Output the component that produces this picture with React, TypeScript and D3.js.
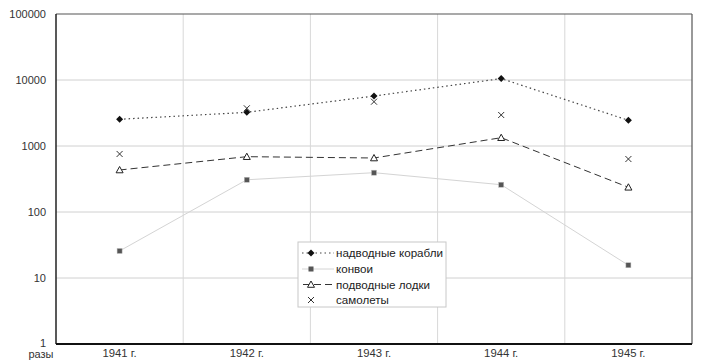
import React from "react";
import * as d3 from "d3";

const years = ["1941 г.", "1942 г.", "1943 г.", "1944 г.", "1945 г."];
const surfaceShips = [2540, 3240, 5720, 10500, 2450];
const convoys = [25.7, 308, 394, 259, 15.6];
const submarines = [433, 689, 658, 1336, 237];
const aircraft = [757, 3725, 4690, 2950, 635];
const yTicks = [1, 10, 100, 1000, 10000, 100000];
const seriesNames = ["надводные корабли", "конвои", "подводные лодки", "самолеты"];
const yUnit = "разы";

const W = 701, H = 362;
const L = 56, R = 692, T = 14, B = 344;
const FONT = "'Liberation Sans', Arial, sans-serif";

export default function App() {
  const x = d3.scaleBand<string>().domain(years).range([L, R]);
  const cx = (i: number) => (x(years[i]) as number) + x.bandwidth() / 2;
  const y = d3.scaleLog().domain([1, 100000]).range([B, T]);
  const line = d3.line<number>().x((_, i) => cx(i)).y((d) => y(d));

  const diamond = (px: number, py: number, s = 3.5) =>
    `M${px},${py - s}L${px + s},${py}L${px},${py + s}L${px - s},${py}Z`;
  const triangle = (px: number, py: number, s = 3.5) =>
    `M${px},${py - s}L${px + s},${py + s * 0.8}L${px - s},${py + s * 0.8}Z`;
  const cross = (px: number, py: number, s = 3) =>
    `M${px - s},${py - s}L${px + s},${py + s}M${px + s},${py - s}L${px - s},${py + s}`;

  const gridX = years.slice(1).map((yr) => x(yr) as number);

  const legX = 298, legY = 242, legW = 148, legH = 65;
  const rowY = [253, 269, 284.5, 300];
  const symX = 311;

  return (
    <svg width={W} height={H} style={{ position: "absolute", left: 0, top: 0 }} fontFamily={FONT}>
      <rect x={0} y={0} width={W} height={H} fill="#fff" />
      {yTicks.slice(1, -1).map((t) => (
        <line key={t} x1={L} x2={R} y1={y(t)} y2={y(t)} stroke="#d0d0d0" strokeWidth={1} />
      ))}
      {gridX.map((gx, i) => (
        <line key={i} x1={gx} x2={gx} y1={T} y2={B} stroke="#d8d8d8" strokeWidth={1} />
      ))}
      <line x1={L} x2={R} y1={T} y2={T} stroke="#555" strokeWidth={1.2} />
      <line x1={R} x2={R} y1={T} y2={B} stroke="#555" strokeWidth={1.2} />
      <line x1={L} x2={L} y1={T} y2={B} stroke="#222" strokeWidth={1.5} />
      <line x1={L} x2={R} y1={B} y2={B} stroke="#111" strokeWidth={2} />

      {yTicks.map((t) => (
        <text key={t} x={46} y={t === 1 ? y(t) - 1 : y(t)} dy="0.35em" textAnchor="end" fontSize={11} fill="#333">
          {String(t)}
        </text>
      ))}
      <text x={41} y={357.5} textAnchor="middle" fontSize={11} fill="#333">{yUnit}</text>
      {years.map((yr, i) => (
        <text key={yr} x={cx(i)} y={356.5} textAnchor="middle" fontSize={11.3} fill="#333">{yr}</text>
      ))}

      <path d={line(convoys) || ""} fill="none" stroke="#d4d4d4" strokeWidth={1} />
      <path d={line(submarines) || ""} fill="none" stroke="#333" strokeWidth={1} strokeDasharray="7,4" />
      <path d={line(surfaceShips) || ""} fill="none" stroke="#444" strokeWidth={1.2} strokeDasharray="1.5,3" />

      {convoys.map((v, i) => (
        <rect key={"c" + i} x={cx(i) - 2.5} y={y(v) - 2.5} width={5} height={5} fill="#555" stroke="#bbb" strokeWidth={0.5} />
      ))}
      {submarines.map((v, i) => (
        <path key={"s" + i} d={triangle(cx(i), y(v))} fill="#fff" stroke="#222" strokeWidth={1} />
      ))}
      {surfaceShips.map((v, i) => (
        <path key={"n" + i} d={diamond(cx(i), y(v))} fill="#111" />
      ))}
      {aircraft.map((v, i) => (
        <path key={"a" + i} d={cross(cx(i), y(v))} fill="none" stroke="#333" strokeWidth={1} />
      ))}

      <rect x={legX} y={legY} width={legW} height={legH} fill="#fff" stroke="#c8c8c8" strokeWidth={1} />
      <line x1={302} x2={334} y1={rowY[0]} y2={rowY[0]} stroke="#444" strokeWidth={1.2} strokeDasharray="1.5,3" />
      <path d={diamond(symX, rowY[0])} fill="#111" />
      <line x1={302} x2={334} y1={rowY[1]} y2={rowY[1]} stroke="#d4d4d4" strokeWidth={1} />
      <rect x={symX - 2.5} y={rowY[1] - 2.5} width={5} height={5} fill="#555" />
      <line x1={302} x2={334} y1={rowY[2]} y2={rowY[2]} stroke="#333" strokeWidth={1} strokeDasharray="7,4" strokeDashoffset={-1} />
      <path d={triangle(symX, rowY[2])} fill="#fff" stroke="#222" strokeWidth={1} />
      <path d={cross(symX, rowY[3])} fill="none" stroke="#333" strokeWidth={1} />
      {seriesNames.map((n, i) => (
        <text key={n} x={336} y={rowY[i]} dy="0.35em" fontSize={11.6} fill="#222">{n}</text>
      ))}
    </svg>
  );
}
